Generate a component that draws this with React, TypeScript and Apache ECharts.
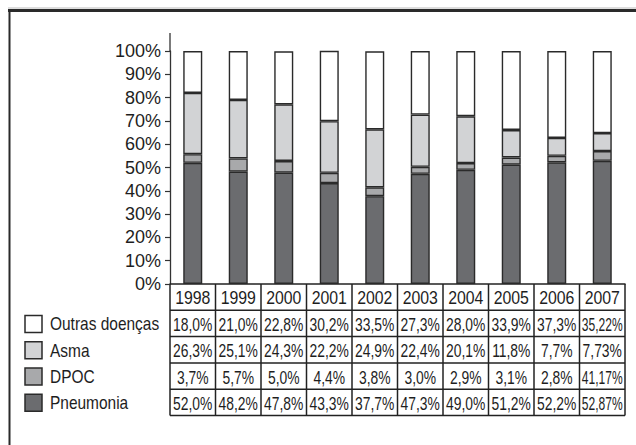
import React, { useEffect, useRef } from "react";
import * as echarts from "echarts";

const years = ["1998", "1999", "2000", "2001", "2002", "2003", "2004", "2005", "2006", "2007"];
const pneumonia = [52.0, 48.2, 47.8, 43.3, 37.7, 47.3, 49.0, 51.2, 52.2, 52.87];
const dpoc = [3.7, 5.7, 5.0, 4.4, 3.8, 3.0, 2.9, 3.1, 2.8, 4.17];
const asma = [26.3, 25.1, 24.3, 22.2, 24.9, 22.4, 20.1, 11.8, 7.7, 7.73];
const outras = [18.0, 21.0, 22.8, 30.2, 33.5, 27.3, 28.0, 33.9, 37.3, 35.22];
// Table texts as printed in the source (note the printed "41,17%" for DPOC 2007)
const outrasText = ["18,0%", "21,0%", "22,8%", "30,2%", "33,5%", "27,3%", "28,0%", "33,9%", "37,3%", "35,22%"];
const asmaText = ["26,3%", "25,1%", "24,3%", "22,2%", "24,9%", "22,4%", "20,1%", "11,8%", "7,7%", "7,73%"];
const dpocText = ["3,7%", "5,7%", "5,0%", "4,4%", "3,8%", "3,0%", "2,9%", "3,1%", "2,8%", "41,17%"];
const pneumoniaText = ["52,0%", "48,2%", "47,8%", "43,3%", "37,7%", "47,3%", "49,0%", "51,2%", "52,2%", "52,87%"];
const seriesNames = ["Outras doenças", "Asma", "DPOC", "Pneumonia"];
const yTicks = [0, 10, 20, 30, 40, 50, 60, 70, 80, 90, 100];

const COLORS = {
  outras: "#ffffff",
  asma: "#d2d3d5",
  dpoc: "#a8a9ab",
  pneumonia: "#6b6c6f",
  line: "#222222",
};
const FAMILY = "Liberation Sans";

export default function App() {
  const ref = useRef<HTMLDivElement>(null);
  useEffect(() => {
    if (!ref.current) return;
    const chart = echarts.init(ref.current, null, { renderer: "svg" });
    const W = 636;
    const gridLeft = 170;
    const gridRight = 11;
    const gridTop = 51;
    const axisY = 284;
    const gridBottom = 445 - axisY;
    const colW = (W - gridLeft - gridRight) / years.length;
    const rowH = 26.3;
    const tableRows = [outrasText, asmaText, dpocText, pneumoniaText];
    const legendColors = [COLORS.outras, COLORS.asma, COLORS.dpoc, COLORS.pneumonia];

    const txt = (text: string, size: number, align: string) => ({
      text, x: 0, y: 0, fill: "#1e1e1e", fontSize: size, fontFamily: FAMILY,
      textAlign: align, textVerticalAlign: "middle", align, verticalAlign: "middle",
    });

    const graphics: any[] = [];
    graphics.push({ type: "line", shape: { x1: 8, y1: 8, x2: 636, y2: 8 }, style: { stroke: "#bbbbbb", lineWidth: 1 } });
    graphics.push({ type: "line", shape: { x1: 8, y1: 10.5, x2: 636, y2: 10.5 }, style: { stroke: "#2a2a2a", lineWidth: 3 } });
    graphics.push({ type: "line", shape: { x1: 9.5, y1: 9, x2: 9.5, y2: 445 }, style: { stroke: "#2a2a2a", lineWidth: 2 } });
    graphics.push({ type: "line", shape: { x1: gridLeft, y1: 33, x2: gridLeft, y2: gridTop }, style: { stroke: "#333", lineWidth: 1.3 } });

    const tableBottom = axisY + rowH * 5;
    for (let r = 1; r <= 5; r++) {
      const y = axisY + rowH * r;
      graphics.push({ type: "line", shape: { x1: gridLeft, y1: y, x2: W - gridRight, y2: y }, style: { stroke: COLORS.line, lineWidth: 1.5 } });
    }
    for (let c = 0; c <= years.length; c++) {
      const x = gridLeft + colW * c;
      graphics.push({ type: "line", shape: { x1: x, y1: axisY, x2: x, y2: tableBottom }, style: { stroke: COLORS.line, lineWidth: 1.5 } });
    }
    years.forEach((yr, i) => {
      graphics.push({ type: "text", x: gridLeft + colW * (i + 0.5), y: axisY + rowH / 2 + 1, scaleX: 0.88, style: txt(yr, 18, "center") });
    });
    tableRows.forEach((row, r) => {
      const cy = axisY + rowH * (r + 1.5) + 1;
      row.forEach((t, i) => {
        const sx = t.length >= 6 ? 0.67 : 0.77;
        graphics.push({ type: "text", x: gridLeft + colW * (i + 0.5), y: cy, scaleX: sx, style: txt(t, 18, "center") });
      });
      graphics.push({ type: "rect", shape: { x: 25, y: cy - 9, width: 17, height: 17 }, style: { fill: legendColors[r], stroke: "#2a2a2a", lineWidth: 1.5 } });
      graphics.push({ type: "text", x: 50, y: cy, scaleX: 0.86, style: txt(seriesNames[r], 18, "left") });
    });

    const barStyle = (color: string) => ({ color, borderColor: "#2a2a2a", borderWidth: 1.4 });
    const option: any = {
      animation: false,
      textStyle: { fontFamily: FAMILY },
      grid: { left: gridLeft, right: gridRight, top: gridTop, bottom: gridBottom, containLabel: false },
      xAxis: {
        type: "category",
        data: years,
        axisLine: { show: true, lineStyle: { color: "#222", width: 1.5 } },
        axisTick: { show: false },
        axisLabel: { show: false },
        splitLine: { show: false },
      },
      yAxis: {
        type: "value",
        min: yTicks[0],
        max: yTicks[yTicks.length - 1],
        interval: 10,
        axisLine: { show: true, lineStyle: { color: "#333", width: 1.3 } },
        axisTick: { show: true, length: 5, lineStyle: { color: "#333", width: 1.2 } },
        axisLabel: { formatter: "{value}%", fontSize: 18, color: "#1e1e1e", fontFamily: FAMILY, margin: 9 },
        splitLine: { show: false },
      },
      series: [
        { name: "Pneumonia", type: "bar", stack: "t", data: pneumonia, barWidth: 19, itemStyle: barStyle(COLORS.pneumonia) },
        { name: "DPOC", type: "bar", stack: "t", data: dpoc, barWidth: 19, itemStyle: barStyle(COLORS.dpoc) },
        { name: "Asma", type: "bar", stack: "t", data: asma, barWidth: 19, itemStyle: barStyle(COLORS.asma) },
        { name: "Outras doenças", type: "bar", stack: "t", data: outras, barWidth: 19, itemStyle: barStyle(COLORS.outras) },
      ],
      graphic: graphics,
    };
    chart.setOption(option);
    return () => chart.dispose();
  }, []);
  return <div ref={ref} style={{ position: "fixed", left: 0, top: 0, width: 636, height: 445, background: "#fff" }} />;
}
